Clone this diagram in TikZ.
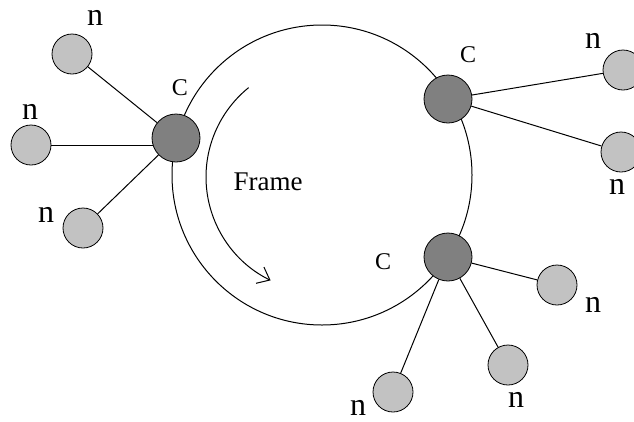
\documentclass[tikz,border=0pt]{standalone}
\usepackage{fontspec}
\setmainfont{Liberation Serif}
\usetikzlibrary{arrows.meta}
\definecolor{hubgray}{RGB}{128,128,128}
\definecolor{leafgray}{RGB}{194,194,194}
\begin{document}
\begin{tikzpicture}[x=1pt,y=-1pt,
  hub/.style={circle,draw,fill=hubgray,minimum size=48pt,inner sep=0pt,line width=0.8pt},
  leaf/.style={circle,draw,fill=leafgray,minimum size=40pt,inner sep=0pt,line width=0.8pt},
  nlbl/.style={font=\fontsize{32}{32}\selectfont,inner sep=0pt},
  clbl/.style={font=\fontsize{24}{24}\selectfont,inner sep=0pt},
  link/.style={line width=1pt}]
\useasboundingbox (0,0) rectangle (634,421);
\coordinate (ring) at (322,175);
\draw[link] (ring) circle[radius=150];
\coordinate (arcc) at (321,177);
\draw[link,-{Straight Barb[length=11pt,width=18pt]}] (arcc) ++(231:115) arc[start angle=231,end angle=116,radius=115];
\node[font=\fontsize{27}{27}\selectfont,inner sep=0pt] (frame) at (268,182) {Frame};
% hubs
\node[hub] (c1) at (176,138) {};
\node[hub] (c2) at (448,99) {};
\node[hub] (c3) at (448,257) {};
% leaves
\node[leaf] (a1) at (72,54) {};
\node[leaf] (a2) at (31,145) {};
\node[leaf] (a3) at (83,228) {};
\node[leaf] (b1) at (623,70) {};
\node[leaf] (b2) at (621,152) {};
\node[leaf] (d1) at (557,285) {};
\node[leaf] (d2) at (508,365) {};
\node[leaf] (d3) at (393,392) {};
% links
\draw[link] (c1) -- (a1);
\draw[link] (a2.east) -- ([xshift=1.5pt]a2.east -| c1.west);
\draw[link] (c1) -- (a3);
\draw[link] (c2) -- (b1);
\draw[link] (c2) -- (b2);
\draw[link] (c3) -- (d1);
\draw[link] (c3) -- (d2);
\draw[link] (c3) -- (d3);
% labels
\node[clbl] (lc1) at (180,88) {C};
\node[clbl] (lc2) at (468,55) {C};
\node[clbl] (lc3) at (383,262) {C};
\node[nlbl] (la1) at (95,18) {n};
\node[nlbl] (la2) at (30,112) {n};
\node[nlbl] (la3) at (46,215) {n};
\node[nlbl] (lb1) at (593,41) {n};
\node[nlbl] (lb2) at (617,187) {n};
\node[nlbl] (ld1) at (593,305) {n};
\node[nlbl] (ld2) at (516,400) {n};
\node[nlbl] (ld3) at (358,408) {n};
\end{tikzpicture}
\end{document}
